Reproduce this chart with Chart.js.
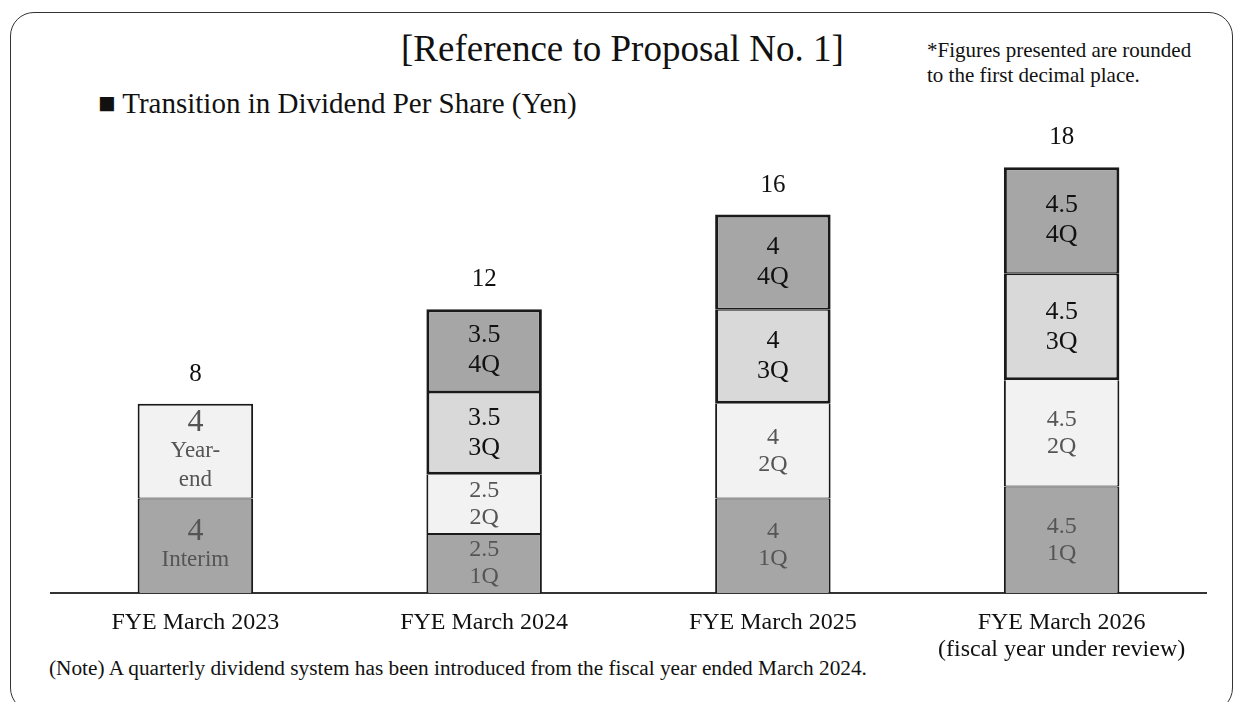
<!DOCTYPE html>
<html lang="en">
<head>
    <meta charset="UTF-8">
    <title>Transition in Dividend Per Share</title>
    <script src="https://cdn.jsdelivr.net/npm/chart.js@4"></script>
    <style>
        body { margin: 0; background: #fff; font-family: "Liberation Serif", "DejaVu Serif", serif; color: #111; }
        .frame { position: absolute; left: 10px; top: 12px; width: 1223px; height: 700px; border: 1.5px solid #333; border-radius: 24px; box-sizing: border-box; }
        .title { position: absolute; left: 401px; top: 30px; font-size: 37px; line-height: 1; white-space: nowrap; }
        .rounded { position: absolute; left: 927px; top: 38px; font-size: 21px; line-height: 25px; white-space: nowrap; }
        .subtitle { position: absolute; left: 98px; top: 89px; font-size: 29px; line-height: 1; white-space: nowrap; }
        .note { position: absolute; left: 49px; top: 658px; font-size: 21.3px; line-height: 1; white-space: nowrap; }
        #wrap { position: absolute; left: 0; top: 0; width: 1234px; height: 679px; }
    </style>
</head>
<body>
    <div class="frame"></div>
    <div class="title">[Reference to Proposal No. 1]</div>
    <div class="rounded">*Figures presented are rounded<br>to the first decimal place.</div>
    <div class="subtitle">■ Transition in Dividend Per Share (Yen)</div>
    <div class="note">(Note) A quarterly dividend system has been introduced from the fiscal year ended March 2024.</div>
    <div id="wrap"><canvas id="chart"></canvas></div>

    <script>
        // categories (multi-line tick labels)
        const years = [
            'FYE March 2023',
            'FYE March 2024',
            'FYE March 2025',
            ['FYE March 2026', '(fiscal year under review)']
        ];
        // stacked segments, bottom to top (yen)
        const seg1 = [4, 2.5, 4, 4.5];
        const seg2 = [4, 2.5, 4, 4.5];
        const seg3 = [null, 3.5, 4, 4.5];
        const seg4 = [null, 3.5, 4, 4.5];
        const totals = ['8', '12', '16', '18'];
        // names shown inside each segment
        const seg1Names = ['Interim', '1Q', '1Q', '1Q'];
        const seg2Names = [['Year-', 'end'], '2Q', '2Q', '2Q'];
        const seg3Names = [null, '3Q', '3Q', '3Q'];
        const seg4Names = [null, '4Q', '4Q', '4Q'];

        const segNames = [seg1Names, seg2Names, seg3Names, seg4Names];
        const FONT = '"Liberation Serif", serif';

        // draws value + name in the middle of each segment, and totals above
        const segmentLabels = {
            id: 'segmentLabels',
            afterDatasetsDraw(chart) {
                const ctx = chart.ctx;
                ctx.save();
                ctx.textAlign = 'center';
                chart.data.datasets.forEach((ds, i) => {
                    const meta = chart.getDatasetMeta(i);
                    meta.data.forEach((bar, j) => {
                        const v = ds.data[j];
                        if (v == null) return;
                        const name = segNames[i][j];
                        const nameLines = Array.isArray(name) ? name : [name];
                        const lower = i < 2;
                        let valFont = 26, nameFont = 26, step = 30;
                        if (j === 0) { valFont = 32; nameFont = 23; step = 29; }
                        else if (lower) { valFont = 24; nameFont = 24; step = 27; }
                        const lines = [{ t: String(v), s: valFont }].concat(nameLines.map(t => ({ t: t, s: nameFont })));
                        const mid = (bar.y + bar.base) / 2;
                        const start = mid - step * (lines.length - 1) / 2;
                        ctx.fillStyle = lower ? '#555' : '#111';
                        ctx.textBaseline = 'middle';
                        lines.forEach((ln, k) => {
                            ctx.font = ln.s + 'px ' + FONT;
                            ctx.fillText(ln.t, bar.x, start + k * step);
                        });
                    });
                });
                // totals above the stacks
                ctx.fillStyle = '#111';
                ctx.textBaseline = 'alphabetic';
                ctx.font = '25px ' + FONT;
                totals.forEach((t, j) => {
                    let top = Infinity, x = 0;
                    chart.data.datasets.forEach((ds, i) => {
                        if (ds.data[j] == null) return;
                        const bar = chart.getDatasetMeta(i).data[j];
                        if (bar.y < top) { top = bar.y; x = bar.x; }
                    });
                    ctx.fillText(t, x, top - 23);
                });
                ctx.restore();
            }
        };

        const common = { borderColor: '#1a1a1a', borderSkipped: false, barPercentage: 0.4, categoryPercentage: 1 };

        new Chart(document.getElementById('chart'), {
            type: 'bar',
            data: {
                labels: years,
                datasets: [
                    Object.assign({ label: 'seg1', data: seg1, backgroundColor: '#a6a6a6',
                        borderWidth: { top: 1, left: 2, right: 2, bottom: 0 } }, common),
                    Object.assign({ label: 'seg2', data: seg2, backgroundColor: '#f2f2f2',
                        borderWidth: c => ({ top: seg3[c.dataIndex] == null ? 2 : 0, left: 2, right: 2, bottom: 1 }) }, common),
                    Object.assign({ label: 'seg3', data: seg3, backgroundColor: '#d9d9d9',
                        borderWidth: { top: 1.5, left: 3, right: 3, bottom: 3 } }, common),
                    Object.assign({ label: 'seg4', data: seg4, backgroundColor: '#a6a6a6',
                        borderWidth: { top: 3, left: 3, right: 3, bottom: 1.5 } }, common)
                ]
            },
            options: {
                responsive: true,
                maintainAspectRatio: false,
                animation: false,
                layout: { padding: { left: 51, right: 28, top: 120, bottom: 0 } },
                plugins: { legend: { display: false }, tooltip: { enabled: false } },
                scales: {
                    x: {
                        stacked: true,
                        grid: { display: false, drawTicks: false },
                        border: { display: true, color: '#333', width: 2 },
                        ticks: { color: '#111', font: { family: FONT, size: 24, lineHeight: 1.125 }, padding: 16, maxRotation: 0 }
                    },
                    y: {
                        stacked: true,
                        display: false,
                        min: 0,
                        max: 20
                    }
                }
            },
            plugins: [segmentLabels]
        });
    </script>
</body>
</html>
